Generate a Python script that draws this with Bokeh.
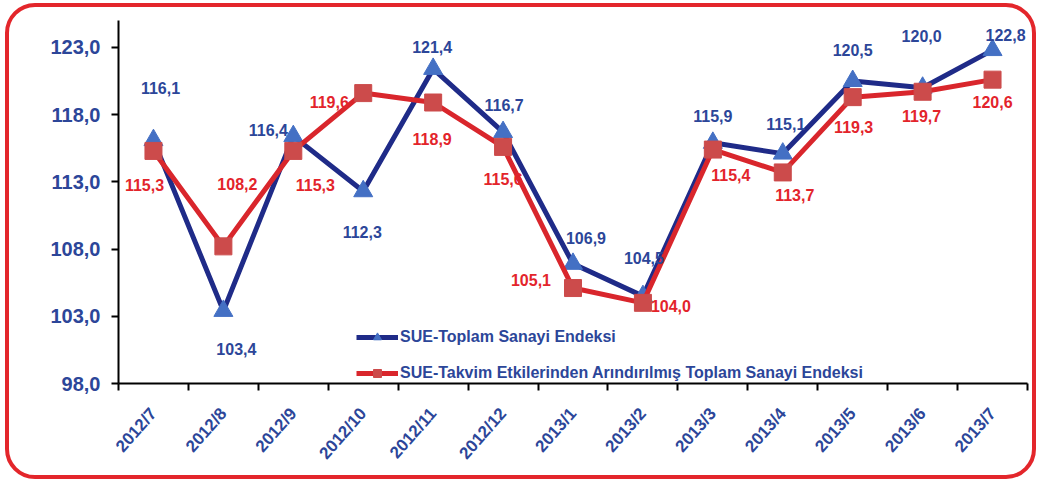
import math
from bokeh.plotting import figure
from bokeh.models import ColumnDataSource, FixedTicker, LabelSet, Legend, LegendItem
from bokeh.core.properties import value
from bokeh.embed import file_html
from bokeh.resources import INLINE

# ---- data ----
categories = ["2012/7", "2012/8", "2012/9", "2012/10", "2012/11", "2012/12",
              "2013/1", "2013/2", "2013/3", "2013/4", "2013/5", "2013/6", "2013/7"]
toplam = [116.1, 103.4, 116.4, 112.3, 121.4, 116.7, 106.9, 104.5, 115.9, 115.1, 120.5, 120.0, 122.8]
takvim = [115.3, 108.2, 115.3, 119.6, 118.9, 115.6, 105.1, 104.0, 115.4, 113.7, 119.3, 119.7, 120.6]
y_ticks = [98.0, 103.0, 108.0, 113.0, 118.0, 123.0]
series_names = ["SUE-Toplam Sanayi Endeksi",
                "SUE-Takvim Etkilerinden Arındırılmış Toplam Sanayi Endeksi"]

# ---- label placement (styling, in screen pixels) ----
toplam_dx = [7, 13, -25, -1, -1, 1, 13, 1, 0, 3, 0, -1, 13]
toplam_dy = [52, -38, 6, -41, 22, 27, 26, 38, 27, 30, 31, 52, 15]
takvim_dx = [-9, 14, 22, -34, -1, 0, -42, 28, 18, 12, 1, -1, 0]
takvim_dy = [-34, 62, -34, -9, -36, -32, 8, -3, -25, -23, -30, -24, -22]

FONT = "Liberation Sans"
BLUE_TXT = "#2C4699"
RED_TXT = "#E3242B"
BLUE_LINE = "#1F2B88"
BLUE_MARK = "#4470C4"
RED_LINE = "#D9262C"
RED_MARK = "#CC4B4B"

def fmt(v):
    return f"{v:.1f}".replace(".", ",")

xs = [i + 0.5 for i in range(len(categories))]

src_a = ColumnDataSource(dict(x=xs, y=toplam, lab=[fmt(v) for v in toplam],
                              dx=toplam_dx, dy=toplam_dy))
src_b = ColumnDataSource(dict(x=xs, y=takvim, lab=[fmt(v) for v in takvim],
                              dx=takvim_dx, dy=takvim_dy))

p = figure(width=1031, height=476, output_backend="svg", toolbar_location=None,
           x_range=(0, len(categories)), y_range=(98, 125),
           min_border_left=109, min_border_right=13, min_border_top=13, min_border_bottom=100)
p.styles = {"border": "4px solid #E3262B", "border-radius": "30px",
            "background-color": "white", "margin-left": "5px", "margin-top": "3px"}
p.border_fill_color = None
p.background_fill_color = None
p.outline_line_color = None
p.xgrid.grid_line_color = None
p.ygrid.grid_line_color = None

# y axis
p.yaxis.ticker = FixedTicker(ticks=y_ticks)
p.yaxis.major_label_overrides = {v: fmt(v) for v in y_ticks}
p.yaxis.axis_line_width = 2
p.yaxis.axis_line_color = "black"
p.yaxis.major_tick_line_width = 2
p.yaxis.major_tick_out = 7
p.yaxis.major_tick_in = 0
p.yaxis.minor_tick_line_color = None
p.yaxis.major_label_text_font = FONT
p.yaxis.major_label_text_font_style = "bold"
p.yaxis.major_label_text_font_size = "20px"
p.yaxis.major_label_text_color = BLUE_TXT
p.yaxis.major_label_standoff = 11

# x axis (ticks between categories, labels at centres)
p.xaxis.ticker = FixedTicker(ticks=xs, minor_ticks=list(range(len(categories) + 1)))
p.xaxis.major_label_overrides = {x: c for x, c in zip(xs, categories)}
p.xaxis.major_tick_line_color = None
p.xaxis.minor_tick_line_color = "black"
p.xaxis.minor_tick_line_width = 2
p.xaxis.minor_tick_out = 7
p.xaxis.minor_tick_in = 0
p.xaxis.axis_line_width = 2
p.xaxis.axis_line_color = "black"
p.xaxis.major_label_orientation = 0.85
p.xaxis.major_label_text_font = FONT
p.xaxis.major_label_text_font_style = "bold"
p.xaxis.major_label_text_font_size = "17px"
p.xaxis.major_label_text_color = BLUE_TXT
p.xaxis.major_label_standoff = 20

# series
la = p.line("x", "y", source=src_a, line_color=BLUE_LINE, line_width=5)
ma = p.scatter("x", "y", source=src_a, marker="triangle", size=19,
               fill_color=BLUE_MARK, line_color=BLUE_MARK)
lb = p.line("x", "y", source=src_b, line_color=RED_LINE, line_width=5)
mb = p.scatter("x", "y", source=src_b, marker="square", size=17,
               fill_color=RED_MARK, line_color=RED_MARK)

for src, col in ((src_a, BLUE_TXT), (src_b, RED_TXT)):
    p.add_layout(LabelSet(x="x", y="y", text="lab", source=src,
                          x_offset="dx", y_offset="dy",
                          text_align="center", text_baseline="middle",
                          text_font=value(FONT), text_font_style="bold",
                          text_font_size="16px", text_color=col))

legend = Legend(items=[LegendItem(label=series_names[0], renderers=[la, ma]),
                       LegendItem(label=series_names[1], renderers=[lb, mb])],
                location=(238, 0), orientation="vertical",
                glyph_width=42, glyph_height=20, spacing=16, padding=0, margin=0,
                label_standoff=2, label_text_font=FONT, label_text_font_style="bold",
                label_text_font_size="16px", label_text_color=BLUE_TXT,
                background_fill_alpha=0, border_line_color=None)
p.add_layout(legend)

open("out.html", "w").write(file_html(p, INLINE))
